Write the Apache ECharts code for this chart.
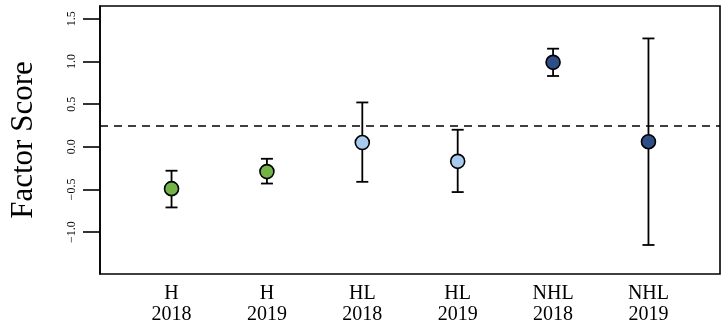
<!DOCTYPE html>
<html>
<head>
<meta charset="utf-8">
<script src="https://cdn.jsdelivr.net/npm/echarts@6/dist/echarts.min.js"></script>
<style>
  html,body{margin:0;padding:0;background:#fff;}
  #chart{width:728px;height:328px;}
</style>
</head>
<body>
<div id="chart"></div>
<script>
// ===== Data =====
const groups   = ["H","H","HL","HL","NHL","NHL"];
const years    = ["2018","2019","2018","2019","2018","2019"];
const means    = [-0.49, -0.29, 0.05, -0.17, 0.99, 0.06];
const lowers   = [-0.71, -0.43, -0.41, -0.53, 0.83, -1.15];
const uppers   = [-0.28, -0.14, 0.52, 0.20, 1.15, 1.27];
const colors   = ["#74b348","#74b348","#a8caee","#a8caee","#2e4e88","#2e4e88"];
const yTicks   = [-1.0, -0.5, 0.0, 0.5, 1.0, 1.5];
const refLine  = 0.25;

const xPos = groups.map((_,i)=>i+1);
const FONT = "Liberation Serif";

const chart = echarts.init(document.getElementById('chart'), null, {renderer:'canvas'});

chart.setOption({
  animation:false,
  grid:{left:100, right:8, top:6, bottom:54, show:true, borderColor:'#000', borderWidth:1.6, backgroundColor:'transparent'},
  xAxis:{
    type:'value', min:0.25, max:6.75,
    splitLine:{show:false},
    axisLine:{show:false},
    axisTick:{show:false},
    axisLabel:{
      customValues:xPos, margin:9, color:'#000',
      fontFamily:FONT, fontSize:20, lineHeight:21,
      formatter:v=>groups[v-1]+'\n'+years[v-1]
    }
  },
  yAxis:{
    type:'value', min:-1.49, max:1.65,
    name:'Factor Score', nameLocation:'middle', nameGap:61,
    nameTextStyle:{fontFamily:FONT, fontSize:31, color:'#000'},
    splitLine:{show:false},
    axisLine:{show:true, lineStyle:{color:'#000', width:1.6}},
    axisTick:{show:true, customValues:yTicks, length:17, lineStyle:{color:'#000', width:1.6}},
    axisLabel:{
      customValues:yTicks, rotate:90, margin:22, color:'#000',
      fontFamily:FONT, fontSize:12,
      formatter:v=>(v<0?'\u2212':'')+Math.abs(v).toFixed(1)
    }
  },
  series:[
    {
      type:'custom',
      data:xPos.map((x,i)=>[x, lowers[i], uppers[i]]),
      renderItem:(params, api)=>{
        const x=api.value(0);
        const lo=api.coord([x, api.value(1)]);
        const hi=api.coord([x, api.value(2)]);
        const st={stroke:'#000', lineWidth:1.8};
        const w=6;
        return {type:'group', children:[
          {type:'line', shape:{x1:lo[0],y1:lo[1],x2:hi[0],y2:hi[1]}, style:st},
          {type:'line', shape:{x1:hi[0]-w,y1:hi[1],x2:hi[0]+w,y2:hi[1]}, style:st},
          {type:'line', shape:{x1:lo[0]-w,y1:lo[1],x2:lo[0]+w,y2:lo[1]}, style:st}
        ]};
      },
      z:2
    },
    {
      type:'scatter',
      symbolSize:14,
      data:xPos.map((x,i)=>({value:[x, means[i]], itemStyle:{color:colors[i]}})),
      itemStyle:{borderColor:'#000', borderWidth:1.6, opacity:1},
      markLine:{
        silent:true, symbol:['none','none'], label:{show:false},
        lineStyle:{color:'#000', type:[8,6], width:1.6},
        data:[{yAxis:refLine}]
      },
      z:3
    }
  ]
});
</script>
</body>
</html>
